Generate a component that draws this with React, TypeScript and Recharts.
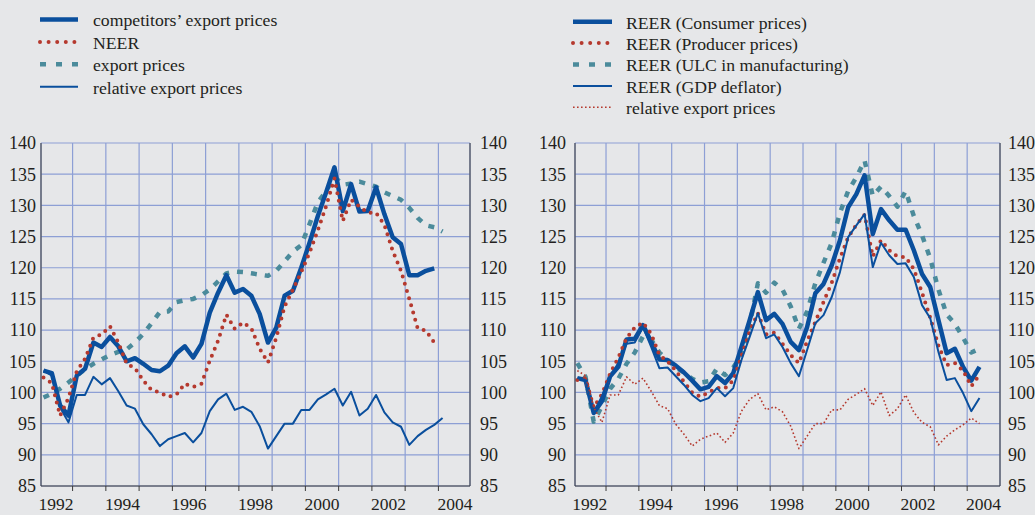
import React from "react";
import { LineChart, Line, XAxis, YAxis, CartesianGrid } from "recharts";

// ---------- data (quarterly, 1992Q1 onwards) ----------
const START_YEAR = 1992;
const gridYears = [1993, 1994, 1995, 1996, 1997, 1998, 1999, 2000, 2001, 2002, 2003, 2004];
const yTicks = [85, 90, 95, 100, 105, 110, 115, 120, 125, 130, 135, 140];

// left panel
const competitorsExportPrices = [
  103.5, 103.1, 97.9, 96.3, 102.7, 103.8, 108.0, 107.3, 108.9, 107.4, 105.0, 105.5,
  104.6, 103.6, 103.4, 104.3, 106.3, 107.4, 105.6, 107.8, 112.8, 116.0, 118.8, 116.0,
  116.6, 115.5, 112.6, 108.0, 110.4, 115.5, 116.3, 120.0, 124.0, 128.3, 132.1, 136.1,
  129.1, 133.4, 129.0, 129.1, 132.9, 128.6, 124.9, 123.8, 118.8, 118.8, 119.5, 119.9,
];
const neer = [
  102.4, 101.5, 96.3, 99.1, 103.4, 105.4, 108.8, 109.3, 110.6, 108.0, 104.6, 103.9,
  101.9, 100.4, 100.0, 99.3, 99.7, 101.4, 100.9, 101.4, 105.1, 108.3, 112.5, 110.2,
  111.2, 110.3, 107.0, 104.8, 108.8, 113.8, 116.5, 119.3, 122.4, 126.0, 129.9, 134.3,
  127.5, 130.9, 129.8, 128.8, 128.8, 126.9, 122.7, 119.5, 115.0, 110.3, 109.9, 108.0,
];
const exportPrices = [
  99.2, 99.8, 100.6, 101.6, 102.7, 103.7, 104.6, 105.3, 106.0, 106.5, 106.9, 108.0,
  109.4, 111.1, 112.9, 113.0, 114.5, 114.8, 115.0, 115.6, 116.5, 117.8, 119.1, 119.4,
  119.3, 119.1, 118.9, 118.7, 119.5, 121.0, 122.6, 123.6, 127.0, 130.5, 132.3, 134.6,
  133.3, 133.5, 133.8, 133.4, 133.0, 132.1, 131.5, 130.9, 129.6, 128.0, 126.8, 126.5,
  125.8,
];
const relativeExportPrices = [
  103.5, 102.7, 97.6, 95.2, 99.6, 99.6, 102.5, 101.3, 102.3, 100.2, 97.9, 97.4,
  94.9, 93.3, 91.4, 92.5, 93.0, 93.5, 92.0, 93.5, 97.0, 98.9, 99.8, 97.2,
  97.7, 96.9, 94.6, 91.0, 93.0, 95.0, 95.0, 97.2, 97.2, 98.9, 99.7, 100.6,
  97.9, 100.1, 96.3, 97.4, 99.6, 96.8, 95.2, 94.5, 91.6, 93.0, 94.0, 94.8,
  95.9, 95.0,
];

// right panel
const reerConsumer = [
  102.3, 102.0, 96.7, 98.6, 102.6, 104.1, 108.5, 108.6, 110.8, 108.1, 105.3, 105.2,
  104.3, 103.2, 101.9, 100.5, 100.9, 102.6, 101.5, 103.1, 107.3, 111.6, 116.1, 111.6,
  112.6, 111.0, 108.1, 106.8, 110.5, 115.9, 117.4, 120.4, 124.4, 129.7, 131.8, 134.8,
  125.4, 129.4, 127.6, 126.1, 126.1, 122.8, 119.0, 116.9, 111.6, 106.3, 107.0, 104.1,
  101.9, 104.1,
];
const reerProducer = [
  102.0, 102.3, 97.6, 99.7, 103.0, 105.6, 108.7, 110.4, 111.2, 109.4, 106.0, 105.0,
  103.5, 101.7, 100.0, 99.3, 100.0, 100.7, 100.7, 101.9, 105.8, 109.8, 112.7, 109.3,
  109.6, 107.8, 106.0, 104.7, 108.2, 111.3, 114.5, 117.6, 121.5, 124.9, 126.9, 128.5,
  121.8, 124.4, 122.8, 121.8, 121.7, 119.8, 116.0, 112.0, 107.5, 104.4, 104.7, 103.5,
  101.0, 102.8,
];
const reerUlc = [
  104.7, 102.5, 95.3, 97.8, 100.6, 102.2, 104.6, 106.4, 109.0, 108.5, 106.4, 105.2,
  104.0, 103.2, 102.2, 101.6, 101.8, 103.8, 102.8, 104.0, 106.0, 110.8, 117.5, 116.0,
  117.6, 116.5, 113.8, 110.2, 113.0, 117.5, 120.8, 124.0, 128.8, 132.3, 134.5, 137.2,
  131.5, 133.0, 131.5, 129.8, 132.3, 128.3, 125.2, 121.5, 116.5, 112.5, 111.0, 108.8,
  106.4, 107.0,
];
const reerGdp = [
  102.3, 102.0, 96.8, 99.4, 102.6, 104.7, 107.8, 108.0, 110.5, 107.3, 103.9, 104.0,
  102.6, 101.2, 99.6, 98.6, 99.1, 100.7, 99.4, 100.7, 105.2, 108.9, 112.7, 108.7,
  109.3, 107.3, 104.7, 102.6, 106.8, 111.1, 112.4, 115.3, 119.3, 124.9, 126.8, 128.6,
  120.1, 124.0, 122.0, 120.6, 120.7, 118.5, 114.0, 111.9, 106.5, 102.0, 102.3, 99.9,
  97.0, 99.1,
];

// quarter i -> mid-quarter time
const quarterTime = (i: number) => START_YEAR + (i + 0.5) / 4;

const leftData = exportPrices.map((_, i) => ({
  t: quarterTime(i),
  comp: competitorsExportPrices[i],
  neer: neer[i],
  exp: exportPrices[i],
  rel: relativeExportPrices[i],
}));

const rightData = reerConsumer.map((_, i) => ({
  t: quarterTime(i),
  cpi: reerConsumer[i],
  ppi: reerProducer[i],
  ulc: reerUlc[i],
  gdp: reerGdp[i],
  rel: relativeExportPrices[i],
}));

// ---------- styles ----------
const BG = "#e6e7e9";
const GRID = "#8d9fd5";
const BLUE = "#0a4f9d";
const RED = "#b5392e";
const TEAL = "#4b8b9b";
const TEXT = "#231f20";
const FONT = "'Liberation Serif', 'Times New Roman', serif";

type SeriesStyle = { key: string; name: string; stroke: string; width: number; dash?: string; cap?: "round" | "butt" };

const leftSeries: SeriesStyle[] = [
  { key: "comp", name: "competitors’ export prices", stroke: BLUE, width: 4.5 },
  { key: "neer", name: "NEER", stroke: RED, width: 4, dash: "0 7.5", cap: "round" },
  { key: "exp", name: "export prices", stroke: TEAL, width: 4.5, dash: "6 8" },
  { key: "rel", name: "relative export prices", stroke: BLUE, width: 2 },
];
const leftDrawOrder = ["exp", "comp", "rel", "neer"];

const rightSeries: SeriesStyle[] = [
  { key: "cpi", name: "REER (Consumer prices)", stroke: BLUE, width: 4.5 },
  { key: "ppi", name: "REER (Producer prices)", stroke: RED, width: 4, dash: "0 7.5", cap: "round" },
  { key: "ulc", name: "REER (ULC in manufacturing)", stroke: TEAL, width: 4.5, dash: "6 8" },
  { key: "gdp", name: "REER (GDP deflator)", stroke: BLUE, width: 2 },
  { key: "rel", name: "relative export prices", stroke: RED, width: 1.6, dash: "1.6 2.4" },
];
const rightDrawOrder = ["ulc", "cpi", "ppi", "gdp", "rel"];

const legendDash = (s: SeriesStyle) => {
  if (s.cap === "round") return "0 8.6";
  if (s.dash === "6 8") return "6 10";
  return s.dash;
};

function YearTick(props: any) {
  const { x, y, payload, half } = props;
  const v = payload.value as number;
  const style = { fontFamily: FONT, fontSize: 17.5, fill: TEXT } as const;
  return (
    <g>
      {(v - 1) % 2 === 0 && (
        <text x={x - half} y={y + 17} textAnchor="middle" {...style}>
          {v - 1}
        </text>
      )}
      {v === 2004 && (
        <text x={x + half} y={y + 17} textAnchor="middle" {...style}>
          {v}
        </text>
      )}
    </g>
  );
}

const yTickStyle = { fill: TEXT, fontSize: 18, fontFamily: FONT };

function Panel(props: {
  data: any[];
  width: number;
  leftW: number;
  rightW: number;
  domain: [number, number];
  half: number;
  leftMargin: number;
  rightMargin: number;
  series: SeriesStyle[];
  order: string[];
}) {
  const { data, width, leftW, rightW, domain, half, leftMargin, rightMargin, series, order } = props;
  return (
    <LineChart width={width} height={515} data={data} margin={{ top: 143, right: 0, bottom: 0, left: 0 }}>
      <CartesianGrid yAxisId="l" stroke={GRID} strokeWidth={1.2} />
      <XAxis
        dataKey="t"
        type="number"
        domain={domain}
        allowDataOverflow
        ticks={gridYears}
        interval={0}
        height={29}
        tickSize={5}
        tickMargin={2}
        axisLine={{ stroke: "#3a3a3a" }}
        tickLine={{ stroke: "#3a3a3a" }}
        tick={<YearTick half={half} />}
      />
      <YAxis
        yAxisId="l"
        orientation="left"
        width={leftW}
        type="number"
        domain={[85, 140]}
        allowDataOverflow
        ticks={yTicks}
        interval={0}
        tickLine={false}
        tickSize={0}
        tickMargin={leftMargin}
        axisLine={{ stroke: "#3a3a3a" }}
        tick={yTickStyle}
      />
      <YAxis
        yAxisId="r"
        orientation="right"
        width={rightW}
        type="number"
        domain={[85, 140]}
        allowDataOverflow
        ticks={yTicks}
        interval={0}
        tickLine={false}
        tickSize={0}
        tickMargin={rightMargin}
        axisLine={{ stroke: "#3a3a3a" }}
        tick={yTickStyle}
      />
      {order.map((k) => {
        const s = series.find((x) => x.key === k)!;
        return (
          <Line
            key={k}
            yAxisId="l"
            type="linear"
            dataKey={k}
            stroke={s.stroke}
            strokeWidth={s.width}
            strokeDasharray={s.dash}
            strokeLinecap={s.cap ?? "butt"}
            strokeLinejoin="round"
            dot={false}
            activeDot={false}
            isAnimationActive={false}
          />
        );
      })}
    </LineChart>
  );
}

function Legend(props: { series: SeriesStyle[]; x1: number; x2: number; tx: number; y0: number; dy: number }) {
  const { series, x1, x2, tx, y0, dy } = props;
  return (
    <g>
      {series.map((s, i) => {
        const y = y0 + i * dy;
        return (
          <g key={s.key + i}>
            <line
              x1={x1}
              x2={x2}
              y1={y}
              y2={y}
              stroke={s.stroke}
              strokeWidth={s.width}
              strokeDasharray={legendDash(s)}
              strokeLinecap={s.cap ?? "butt"}
            />
            <text x={tx} y={y + 6.8} fontFamily={FONT} fontSize={17.7} fill={TEXT}>
              {s.name}
            </text>
          </g>
        );
      })}
    </g>
  );
}

export default function App() {
  return (
    <div
      style={{
        position: "absolute",
        left: 0,
        top: 0,
        width: 1035,
        height: 515,
        background: BG,
        overflow: "hidden",
        fontFamily: FONT,
      }}
    >
      <div style={{ position: "absolute", left: 0, top: 0 }}>
        <Panel
          data={leftData}
          width={520}
          leftW={41}
          rightW={50}
          domain={[1992.05, 2004.95]}
          half={16.6}
          leftMargin={5}
          rightMargin={10}
          series={leftSeries}
          order={leftDrawOrder}
        />
      </div>
      <div style={{ position: "absolute", left: 520, top: 0 }}>
        <Panel
          data={rightData}
          width={515}
          leftW={55}
          rightW={35}
          domain={[1992.055, 2005.0]}
          half={16.4}
          leftMargin={9}
          rightMargin={8}
          series={rightSeries}
          order={rightDrawOrder}
        />
      </div>
      <svg width={1035} height={140} style={{ position: "absolute", left: 0, top: 0, pointerEvents: "none" }}>
        <Legend series={leftSeries} x1={40} x2={78} tx={93} y0={19.5} dy={22.4} />
        <Legend series={rightSeries} x1={573} x2={612} tx={626} y0={21.7} dy={21.4} />
      </svg>
    </div>
  );
}
